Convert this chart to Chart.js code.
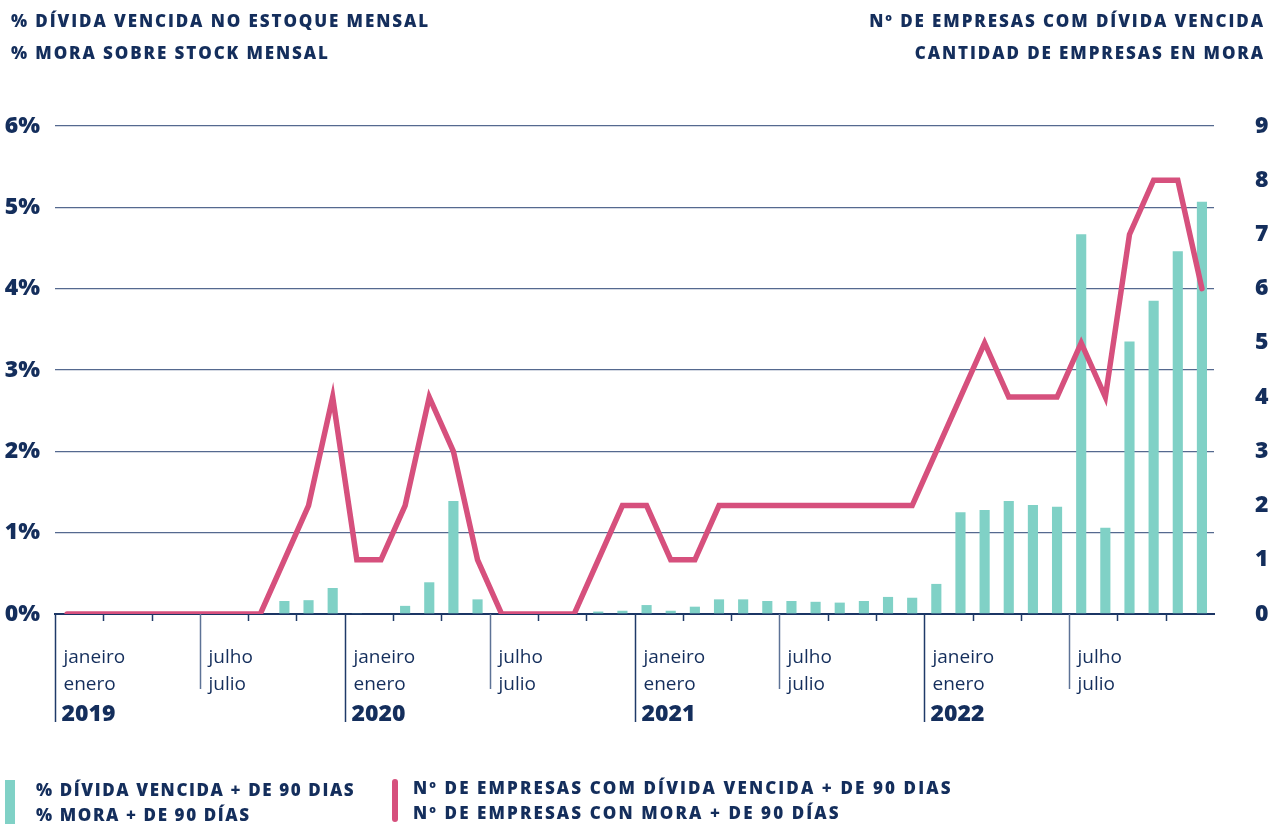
<!DOCTYPE html>
<html>
<head>
<meta charset="utf-8">
<script src="https://cdn.jsdelivr.net/npm/chart.js@4.4.1/dist/chart.umd.min.js"></script>
<style>
  body { margin: 0; background: #fff; }
  #wrap { position: relative; width: 1279px; height: 824px; overflow: hidden; }
  canvas { position: absolute; left: 0; top: 0; }
  .head { position: absolute; font-family: "Open Sans", sans-serif; font-weight: 800; font-size: 17px;
          letter-spacing: 1.9px; color: #142e5c; line-height: 32px; white-space: nowrap; }
  .leg { position: absolute; font-family: "Open Sans", sans-serif; font-weight: 800; font-size: 17px;
         letter-spacing: 1.6px; color: #142e5c; line-height: 25px; white-space: nowrap; }
  .sw { position: absolute; }
</style>
</head>
<body>
<div id="wrap">
  <canvas id="graf" width="1279" height="824"></canvas>
  <div class="head" style="left:11px; top:5px;">% DÍVIDA VENCIDA NO ESTOQUE MENSAL<br>% MORA SOBRE STOCK MENSAL</div>
  <div class="head" style="right:14px; top:5px; text-align:right;">Nº DE EMPRESAS COM DÍVIDA VENCIDA<br>CANTIDAD DE EMPRESAS EN MORA</div>
  <div class="sw" style="left:5px; top:780px; width:10px; height:44px; background:#80d1c6;"></div>
  <div class="leg" style="left:36px; top:777px;">% DÍVIDA VENCIDA + DE 90 DIAS<br>% MORA + DE 90 DÍAS</div>
  <div class="sw" style="left:392px; top:779px; width:6px; height:43px; border-radius:3px; background:#d6507d;"></div>
  <div class="leg" style="left:413px; top:775px; letter-spacing:2.1px;">Nº DE EMPRESAS COM DÍVIDA VENCIDA + DE 90 DIAS<br>Nº DE EMPRESAS CON MORA + DE 90 DÍAS</div>
</div>
<script>
// ........ donnees ........
const annees = ['2019', '2020', '2021', '2022'];
const moisPt = ['janeiro', 'julho'];
const moisEs = ['enero', 'julio'];

const categories = [];
annees.forEach(a => {
    for (let m = 1; m <= 12; m++) categories.push(a + '-' + String(m).padStart(2, '0'));
});

// % divida vencida + de 90 dias (eixo esquerdo)
const pctDivida = [
    0, 0, 0, 0, 0, 0, 0, 0, 0, 0.16, 0.17, 0.32,
    0.01, 0, 0.10, 0.39, 1.39, 0.18, 0, 0, 0, 0, 0.03, 0.04,
    0.11, 0.04, 0.09, 0.18, 0.18, 0.16, 0.16, 0.15, 0.14, 0.16, 0.21, 0.20,
    0.37, 1.25, 1.28, 1.39, 1.34, 1.32, 4.67, 1.06, 3.35, 3.85, 4.46, 5.07
];

// nº de empresas (eixo direito)
const nEmpresas = [
    0, 0, 0, 0, 0, 0, 0, 0, 0, 1, 2, 4,
    1, 1, 2, 4, 3, 1, 0, 0, 0, 0, 1, 2,
    2, 1, 1, 2, 2, 2, 2, 2, 2, 2, 2, 2,
    3, 4, 5, 4, 4, 4, 5, 4, 7, 8, 8, 6
];

const marine = '#142e5c';
const turquoise = '#80d1c6';
const rose = '#d6507d';

// ........ labels de l'axe x (dessinés à la main) ........
const axeX = {
    id: 'axeX',
    afterDraw(chart) {
        const ctx = chart.ctx;
        const x = chart.scales.x;
        const base = chart.chartArea.bottom;
        const pas = x.width / categories.length;
        ctx.save();
        for (let k = 0; k < categories.length; k += 2) {
            const px = Math.round(x.left + k * pas) + 0.5;
            let fin = base + 7;
            let coul = '#1f3a68';
            if (k % 12 === 0) fin = base + 108;
            else if (k % 6 === 0) { fin = base + 75; coul = '#5d7296'; }
            ctx.strokeStyle = coul;
            ctx.lineWidth = 1.5;
            ctx.beginPath();
            ctx.moveTo(px, base);
            ctx.lineTo(px, fin);
            ctx.stroke();
            if (k % 6 === 0) {
                const j = (k % 12 === 0) ? 0 : 1;
                ctx.fillStyle = marine;
                ctx.textAlign = 'left';
                ctx.font = '400 19px "Open Sans"';
                ctx.fillText(moisPt[j], px + 8, base + 49);
                ctx.fillText(moisEs[j], px + 8, base + 76);
                if (j === 0) {
                    ctx.font = '800 23px "Open Sans"';
                    ctx.fillText(annees[k / 12], px + 6, base + 107);
                }
            }
        }
        ctx.restore();
    }
};

const graf = document.getElementById('graf').getContext('2d');
const chart = new Chart(graf, {
    type: 'bar',
    data: {
        labels: categories,
        datasets: [{
            type: 'line',
            label: 'Nº de empresas com dívida vencida + de 90 dias',
            data: nEmpresas,
            yAxisID: 'y2',
            borderColor: rose,
            borderWidth: 5.5,
            borderJoinStyle: 'miter',
            borderCapStyle: 'round',
            pointRadius: 0,
            tension: 0,
            order: 0
        }, {
            label: '% dívida vencida + de 90 dias',
            data: pctDivida,
            yAxisID: 'y',
            backgroundColor: turquoise,
            barPercentage: 0.42,
            categoryPercentage: 1,
            order: 1
        }]
    },
    options: {
        responsive: false,
        animation: false,
        layout: { padding: { top: 126, bottom: 210, left: 0, right: 0 } },
        plugins: {
            legend: { display: false },
            tooltip: { enabled: false }
        },
        scales: {
            x: {
                offset: true,
                grid: { display: false, drawTicks: false },
                ticks: { display: false },
                border: { display: true, color: '#1b3564', width: 2 },
                afterFit(s) { s.height = 0; }
            },
            y: {
                position: 'left',
                min: 0,
                max: 6,
                ticks: {
                    stepSize: 1,
                    callback: v => v + '%',
                    color: marine,
                    font: { family: 'Open Sans', weight: '800', size: 23 },
                    padding: 15
                },
                grid: { color: '#55698f', lineWidth: 1.3, drawTicks: false },
                border: { display: false },
                afterFit(s) { s.width = 55; }
            },
            y2: {
                position: 'right',
                min: 0,
                max: 9,
                ticks: {
                    stepSize: 1,
                    color: marine,
                    font: { family: 'Open Sans', weight: '800', size: 23 },
                    padding: 41
                },
                grid: { display: false, drawTicks: false },
                border: { display: false },
                afterFit(s) { s.width = 65; }
            }
        }
    },
    plugins: [axeX]
});
</script>
</body>
</html>
